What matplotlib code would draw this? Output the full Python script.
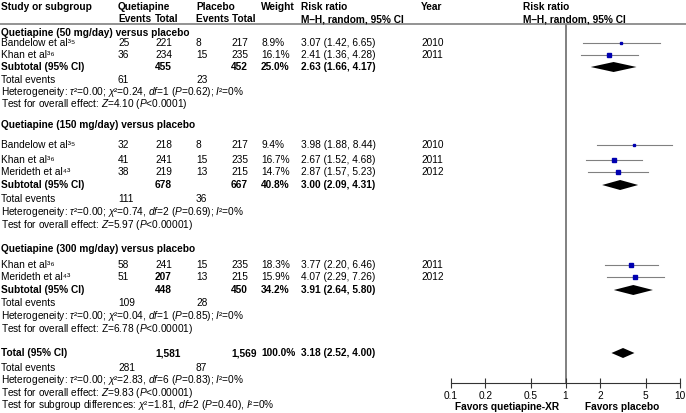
import matplotlib
matplotlib.use("Agg")
import matplotlib.pyplot as plt

plt.rcParams["font.family"] = ["Liberation Sans", "DejaVu Sans"]
plt.rcParams["mathtext.fontset"] = "custom"
plt.rcParams["mathtext.rm"] = "Liberation Sans"
plt.rcParams["mathtext.it"] = "Liberation Sans:italic"
plt.rcParams["mathtext.bf"] = "Liberation Sans:bold"

# ---- data ----
group_titles = [
    "Quetiapine (50 mg/day) versus placebo",
    "Quetiapine (150 mg/day) versus placebo",
    "Quetiapine (300 mg/day) versus placebo",
]
study_names = [
    ["Bandelow et al³⁵", "Khan et al³⁶"],
    ["Bandelow et al³⁵", "Khan et al³⁶", "Merideth et al⁴³"],
    ["Khan et al³⁶", "Merideth et al⁴³"],
]
q_events = [[25, 36], [32, 41, 38], [58, 51]]
q_total = [[221, 234], [218, 241, 219], [241, 207]]
p_events = [[8, 15], [8, 15, 13], [15, 13]]
p_total = [[217, 235], [217, 235, 215], [235, 215]]
weights = [[8.9, 16.1], [9.4, 16.7, 14.7], [18.3, 15.9]]
rr = [[3.07, 2.41], [3.98, 2.67, 2.87], [3.77, 4.07]]
rr_lo = [[1.42, 1.36], [1.88, 1.52, 1.57], [2.20, 2.29]]
rr_hi = [[6.65, 4.28], [8.44, 4.68, 5.23], [6.46, 7.26]]
years = [[2010, 2011], [2010, 2011, 2012], [2011, 2012]]

sub_q_total = [455, 678, 448]
sub_p_total = [452, 667, 450]
sub_weight = [25.0, 40.8, 34.2]
sub_rr = [2.63, 3.00, 3.91]
sub_lo = [1.66, 2.09, 2.64]
sub_hi = [4.17, 4.31, 5.80]
sub_q_events = [61, 111, 109]
sub_p_events = [23, 36, 28]
sub_het = [
    r"Heterogeneity: $\tau$²=0.00; $\chi$²=0.24, $df$=1 ($P$=0.62); $I$²=0%",
    r"Heterogeneity: $\tau$²=0.00; $\chi$²=0.74, $df$=2 ($P$=0.69); $I$²=0%",
    r"Heterogeneity: $\tau$²=0.00; $\chi$²=0.04, $df$=1 ($P$=0.85); $I$²=0%",
]
sub_test = [
    r"Test for overall effect: $Z$=4.10 ($P$<0.0001)",
    r"Test for overall effect: $Z$=5.97 ($P$<0.00001)",
    r"Test for overall effect: Z=6.78 ($P$<0.00001)",
]

tot_q_total, tot_p_total = 1581, 1569
tot_weight = 100.0
tot_rr, tot_lo, tot_hi = 3.18, 2.52, 4.00
tot_q_events, tot_p_events = 281, 87
tot_lines = [
    r"Heterogeneity: $\tau$²=0.00; $\chi$²=2.83, $df$=6 ($P$=0.83); $I$²=0%",
    r"Test for overall effect: $Z$=9.83 ($P$<0.00001)",
    r"Test for subgroup differences: $\chi$²=1.81, $df$=2 ($P$=0.40), $I$²=0%",
]

ticks = [0.1, 0.2, 0.5, 1, 2, 5, 10]
tick_labels = ["0.1", "0.2", "0.5", "1", "2", "5", "10"]

# ---- layout (pixel rows) ----
W, H = 686, 413
group_rows = [
    dict(title=33, studies=[43, 55], sub=67, events=80, het=92, test=104),
    dict(title=125, studies=[145, 160, 172], sub=185, events=199, het=212, test=225),
    dict(title=249, studies=[265, 277], sub=290, events=303, het=316, test=329),
]
total_row, total_events_row = 353, 368
total_line_rows = [380, 393, 405]
col = dict(study=1, qe=118, qt=155, pe=196, pt=231, w=261, rr=301, yr=421)
fs = 7.3

fig = plt.figure(figsize=(W / 100, H / 100), dpi=100)


def T(x, y, s, bold=False):
    fig.text(x / W, 1 - y / H, s, fontsize=fs, va="center", ha="left",
             fontweight="bold" if bold else "normal")


def rr_text(r, lo, hi):
    return f"{r:.2f} ({lo:.2f}, {hi:.2f})"


# headers
T(col["study"], 7, "Study or subgroup", True)
T(col["qe"], 7, "Quetiapine", True)
T(col["qe"], 19, "Events", True)
T(col["qt"], 19, "Total", True)
T(col["pe"], 7, "Placebo", True)
T(col["pe"], 19, "Events Total", True)
T(col["w"], 7, "Weight", True)
T(col["rr"], 7, "Risk ratio", True)
T(col["rr"], 19, "M–H, random, 95% CI", True)
T(col["yr"], 7, "Year", True)
T(523, 7, "Risk ratio", True)
T(523, 19, "M–H, random, 95% CI", True)
fig.add_artist(plt.Line2D([0, 1], [1 - 24 / H, 1 - 24 / H], color="#808080", lw=1.2))

# forest axes: y data in pixel rows
ax = fig.add_axes([451 / W, (H - 383) / H, (680 - 451) / W, (383 - 24) / H])
ax.set_xscale("log")
ax.set_xlim(0.1, 10)
ax.set_ylim(383, 24)
for s in ["top", "left", "right"]:
    ax.spines[s].set_visible(False)
ax.spines["bottom"].set_color("#333333")
ax.spines["bottom"].set_linewidth(0.8)
ax.set_yticks([])
ax.set_xticks(ticks)
ax.set_xticklabels(tick_labels)
ax.minorticks_off()
ax.tick_params(axis="x", direction="inout", length=7, width=0.8,
               labelsize=fs, pad=2, colors="#333333", labelcolor="black")
ax.axvline(1, color="#808080", lw=1.4, zorder=1)


def diamond(r, lo, hi, y, h=5):
    ax.fill([lo, r, hi, r], [y, y - h, y, y + h], color="black", lw=0, zorder=3)


for g in range(3):
    rows = group_rows[g]
    T(col["study"], rows["title"], group_titles[g], True)
    for i, y in enumerate(rows["studies"]):
        T(col["study"], y, study_names[g][i])
        T(col["qe"], y, str(q_events[g][i]))
        bold_total = (q_total[g][i] == 207)
        T(col["qt"], y, str(q_total[g][i]), bold_total)
        T(col["pe"], y, str(p_events[g][i]))
        T(col["pt"], y, str(p_total[g][i]))
        T(col["w"], y, f"{weights[g][i]:.1f}%")
        T(col["rr"], y, rr_text(rr[g][i], rr_lo[g][i], rr_hi[g][i]))
        T(col["yr"], y, str(years[g][i]))
        ax.plot([rr_lo[g][i], rr_hi[g][i]], [y, y], color="#808080", lw=0.8, zorder=2)
        ax.plot(rr[g][i], y, "s", color="#0000b0", mec="#0000b0",
                ms=0.62 * weights[g][i] ** 0.5, zorder=4)
    y = rows["sub"]
    T(col["study"], y, "Subtotal (95% CI)", True)
    T(col["qt"], y, str(sub_q_total[g]), True)
    T(col["pt"], y, str(sub_p_total[g]), True)
    T(col["w"], y, f"{sub_weight[g]:.1f}%", True)
    T(col["rr"], y, rr_text(sub_rr[g], sub_lo[g], sub_hi[g]), True)
    diamond(sub_rr[g], sub_lo[g], sub_hi[g], y)
    T(col["study"], rows["events"], "Total events")
    T(col["qe"], rows["events"], str(sub_q_events[g]))
    T(col["pe"], rows["events"], str(sub_p_events[g]))
    T(col["study"], rows["het"], sub_het[g])
    T(col["study"], rows["test"], sub_test[g])

y = total_row
T(col["study"], y, "Total (95% CI)", True)
T(col["qt"], y, f"{tot_q_total:,}", True)
T(col["pt"], y, f"{tot_p_total:,}", True)
T(col["w"], y, f"{tot_weight:.1f}%", True)
T(col["rr"], y, rr_text(tot_rr, tot_lo, tot_hi), True)
diamond(tot_rr, tot_lo, tot_hi, y)
T(col["study"], total_events_row, "Total events")
T(col["qe"], total_events_row, str(tot_q_events))
T(col["pe"], total_events_row, str(tot_p_events))
for yy, s in zip(total_line_rows, tot_lines):
    T(col["study"], yy, s)

fig.text(507 / W, 1 - 407 / H, "Favors quetiapine-XR", fontsize=fs,
         fontweight="bold", ha="center", va="center")
fig.text(622 / W, 1 - 407 / H, "Favors placebo", fontsize=fs,
         fontweight="bold", ha="center", va="center")

fig.savefig("out.png", dpi=100)
